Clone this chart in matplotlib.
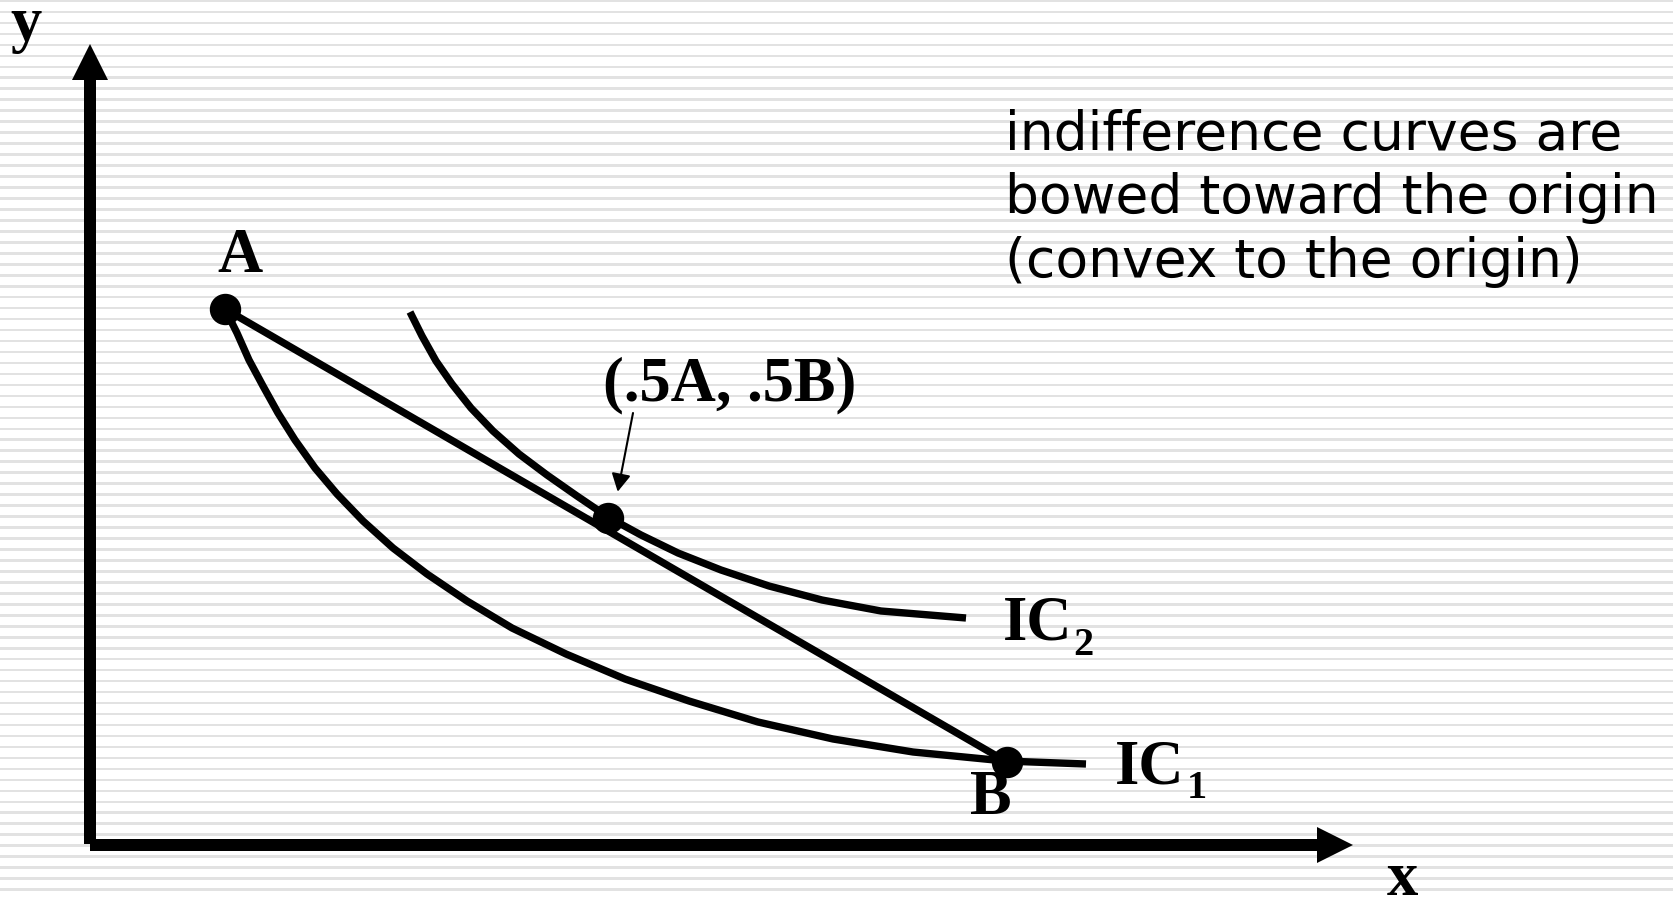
import numpy as np
import matplotlib
matplotlib.use("Agg")
import matplotlib.pyplot as plt


# -----------------------------
# DATA (units: origin at axis corner)
# -----------------------------

point_a = (1.35, 5.36)
point_b = (9.17, 0.83)
point_mid = (5.18, 3.27)

ic1_x = [1.35, 1.47, 1.59, 1.73, 1.88, 2.05, 2.25, 2.47, 2.73, 3.03, 3.37,
         3.77, 4.22, 4.76, 5.35, 5.99, 6.68, 7.43, 8.23, 9.15, 9.96]
ic1_y = [5.36, 5.12, 4.85, 4.59, 4.32, 4.05, 3.77, 3.51, 3.24, 2.97, 2.71,
         2.44, 2.17, 1.91, 1.66, 1.44, 1.23, 1.06, 0.93, 0.84, 0.81]

ic2_x = [3.20, 3.32, 3.46, 3.62, 3.81, 4.03, 4.29, 4.57, 4.87, 5.18, 5.51,
         5.88, 6.31, 6.79, 7.32, 7.91, 8.76]
ic2_y = [5.33, 5.09, 4.84, 4.61, 4.37, 4.14, 3.91, 3.70, 3.49, 3.28, 3.10,
         2.92, 2.75, 2.59, 2.45, 2.34, 2.27]

x_axis_end = 12.63
y_axis_end = 8.00

note_lines = [
    "indifference curves are",
    "bowed toward the origin",
    "(convex to the origin)",
]


# -----------------------------
# FIGURE + STRIPED BACKGROUND
# -----------------------------

fig = plt.figure(figsize=(16.74, 8.97), dpi=100)

bg = fig.add_axes([0, 0, 1, 1])
bg.set_xlim(0, 1)
bg.set_ylim(897, 0)
bg.axis("off")

for y in np.arange(1.0, 897, 10.97):
    bg.axhspan(y - 1.3, y + 1.3, color="#e2e2e2", lw=0)

ax = fig.add_axes([0, 0, 1, 1])
ax.patch.set_alpha(0)
ax.set_xlim(-0.90, 15.84)
ax.set_ylim(-0.52, 8.45)
ax.axis("off")


# -----------------------------
# AXES ARROWS
# -----------------------------

ax.arrow(0, 0.01, 0, y_axis_end, width=0.12, head_width=0.36,
         head_length=0.36, length_includes_head=True, color="black", lw=0)
ax.arrow(0, 0, x_axis_end, 0, width=0.12, head_width=0.36,
         head_length=0.36, length_includes_head=True, color="black", lw=0)

serif = dict(family="Liberation Serif", weight="bold", color="black")

ax.text(-0.64, 8.05, "y", fontsize=45, ha="center", va="baseline", **serif)
ax.text(13.12, -0.50, "x", fontsize=45, ha="center", va="baseline", **serif)


# -----------------------------
# CURVES + LINE
# -----------------------------

ax.plot(ic1_x, ic1_y, color="black", lw=5.3,
        solid_capstyle="butt", solid_joinstyle="round")
ax.plot(ic2_x, ic2_y, color="black", lw=5.3,
        solid_capstyle="butt", solid_joinstyle="round")

ax.plot([point_a[0], point_b[0]], [point_a[1], point_b[1]],
        color="black", lw=5.3, solid_capstyle="butt")

ax.plot([point_a[0], point_mid[0], point_b[0]],
        [point_a[1], point_mid[1], point_b[1]],
        "o", color="black", markersize=21.6, lw=0)


# -----------------------------
# LABELS
# -----------------------------

ax.text(1.50, 5.73, "A", fontsize=45, ha="center", va="baseline", **serif)
ax.text(9.01, 0.31, "B", fontsize=45, ha="center", va="baseline", **serif)

ax.text(5.13, 4.45, "(.5A, .5B)", fontsize=45, ha="left", va="baseline", **serif)

ax.text(9.13, 2.05, "IC", fontsize=45, ha="left", va="baseline", **serif)
ax.text(9.83, 1.90, "2", fontsize=29, ha="left", va="baseline", **serif)

ax.text(10.25, 0.617, "IC", fontsize=45, ha="left", va="baseline", **serif)
ax.text(10.97, 0.467, "1", fontsize=29, ha="left", va="baseline", **serif)

ax.annotate("", xy=(5.277, 3.533), xytext=(5.43, 4.32),
            arrowprops=dict(arrowstyle="-|>,head_length=0.54,head_width=0.29",
                            color="black", lw=1.5, mutation_scale=20,
                            shrinkA=0, shrinkB=0))

for i, line in enumerate(note_lines):
    ax.text(9.15, 6.955 - 0.64 * i, line, fontsize=38.5,
            family="DejaVu Sans", ha="left", va="baseline", color="black")


fig.savefig("out.png", dpi=100)
plt.close(fig)
